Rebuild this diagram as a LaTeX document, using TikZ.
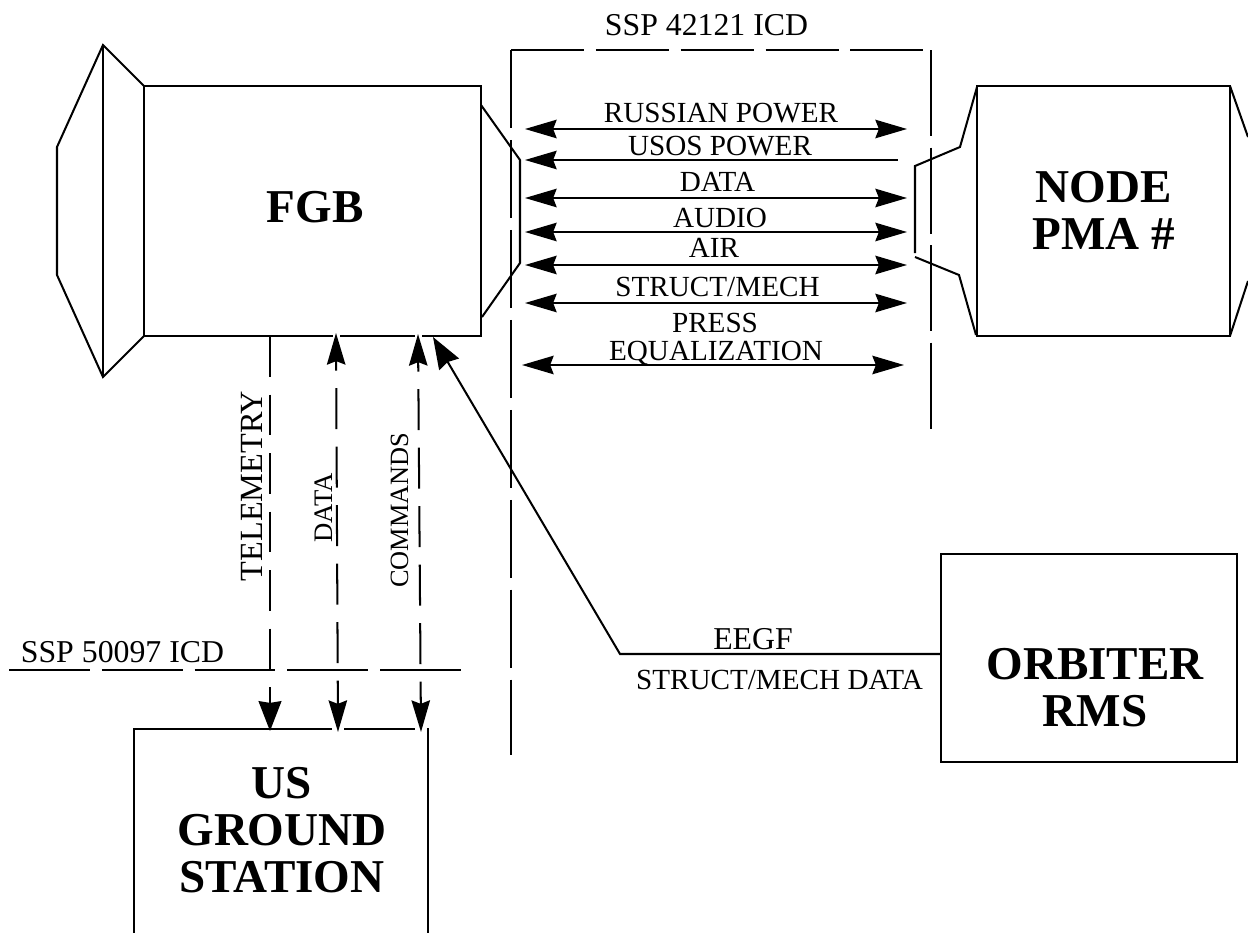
\documentclass[tikz,border=0pt]{standalone}
\usepackage{fontspec}
\setmainfont{Liberation Serif}
\usetikzlibrary{arrows.meta}
\tikzset{
  outline/.style={line width=1.15pt,line join=miter},
  boxnode/.style={draw,line width=1.15pt,inner sep=0pt},
  boxtext/.style={inner sep=0pt,font=\fontsize{26.8}{26.8}\selectfont\bfseries,align=center},
  lbl/.style={inner sep=0pt,anchor=base,font=\fontsize{16.6}{16}\selectfont,align=center},
  biglbl/.style={lbl,font=\fontsize{18.1}{16}\selectfont},
  link/.style={line width=1.15pt,>={Stealth[length=18pt,width=10.5pt,inset=2pt]}},
  icdtop/.style={line width=1.15pt,dash pattern=on 41.5pt off 6.8pt},
  icdleft/.style={line width=1.15pt,dash pattern=on 44.4pt off 6.8pt},
  icdright/.style={line width=1.15pt,dash pattern=on 49pt off 6.5pt},
  icdlow/.style={line width=1.15pt,dash pattern=on 46pt off 6.8pt},
  downlink/.style={link,dash pattern=on 23.3pt off 10pt,dash phase=17.6pt}
}
\begin{document}
\begin{tikzpicture}[x=.02cm,y=-.02cm]
    \useasboundingbox (0,0) rectangle (1248,933);
    \clip (0,0) rectangle (1248,933);
    % boxes
    \node[boxnode,minimum width=6.74cm,minimum height=5cm] (fgb) at (312.5,211) {};
    \node[boxnode,minimum width=5.06cm,minimum height=5cm] (pma) at (1103.5,211) {};
    \node[boxnode,minimum width=5.92cm,minimum height=4.16cm] (orbiter) at (1089,658) {};
    \node[boxnode,minimum width=5.88cm,minimum height=5cm] (ground) at (281,854) {};
    \node[boxtext] (fgbtext) at (315,207.5) {FGB};
    \node[boxtext] (pmatext) at (1104,210) {NODE\\PMA \#};
    \node[boxtext] (orbitertext) at (1095,688) {ORBITER\\RMS};
    \node[boxtext] (groundtext) at (282,830) {US\\GROUND\\STATION};
    % end pieces
    \draw[outline] (144,86) -- (103,45) -- (57,147) -- (57,275) -- (103,377) -- (144,336);
    \draw[outline] (103,45) -- (103,377);
    \draw[outline] (481,105) -- (520,160) -- (520,263) -- (482,317);
    \draw[outline] (977,87) -- (960,147) -- (915,166) -- (915,253);
    \draw[outline] (915,257) -- (959,275) -- (976,335);
    \draw[outline] (1230,86) -- (1248,137);
    \draw[outline] (1230,336) -- (1248,281);
    % ICD lines
    \coordinate (icdA) at (511,50);
    \coordinate (icdB) at (931,50);
    \coordinate (icdC) at (511,755);
    \coordinate (icdD) at (931,430);
    \coordinate (icdE) at (9,670);
    \coordinate (icdF) at (462,670);
    \draw[icdtop] (icdA) -- (icdB);
    \draw[icdleft] (icdA) -- (icdC);
    \draw[icdright] (icdB) -- (icdD);
    \draw[icdlow] (icdE) -- (icdF);
    % flows across the ICD
    \foreach \nm/\yy in {russian/129,data/198,audio/232,air/265,struct/303}{
        \coordinate (\nm L) at (525,\yy);
        \coordinate (\nm R) at (907,\yy);
        \draw[link,<->] (\nm L) -- (\nm R);
    }
    \coordinate (usosL) at (525,160);
    \coordinate (usosR) at (898,160);
    \draw[link,<-] (usosL) -- (usosR);
    \coordinate (pressL) at (522,365);
    \coordinate (pressR) at (904,365);
    \draw[link,<->] (pressL) -- (pressR);
    % ground links
    \coordinate (telemT) at (270,336);
    \coordinate (telemB) at (270,731);
    \coordinate (dataT) at (336,333);
    \coordinate (dataB) at (338,732);
    \coordinate (cmdT) at (418,334);
    \coordinate (cmdB) at (421,732);
    \draw[white,line width=2pt] (333,336) -- (340,336) (415,336) -- (422,336);
    \draw[white,line width=2pt] (332,729) -- (344,729) (415,729) -- (427,729);
    \draw[link,dash pattern=on 23.3pt off 10pt,-{Stealth[length=17pt,width=13pt,inset=1pt]}] (telemT) -- (telemB);
    \draw[downlink,<->] (dataT) -- (dataB);
    \draw[downlink,<->] (cmdT) -- (cmdB);
    % orbiter link
    \coordinate (bend) at (620,654);
    \coordinate (eegfT) at (433,337);
    \draw[line width=1.15pt,-{Stealth[length=18pt,width=13pt,inset=1.5pt]}] (bend -| orbiter.west) -- (bend) -- (eegfT);
    % labels
    \node[biglbl] (icd1) at (706.5,35) {SSP 42121 ICD};
    \node[lbl] (russian) at (721,122) {RUSSIAN POWER};
    \node[lbl] (usos) at (720,155) {USOS POWER};
    \node[lbl] (data) at (717.5,191) {DATA};
    \node[lbl] (audio) at (720,227) {AUDIO};
    \node[lbl] (air) at (714,257) {AIR};
    \node[lbl] (struct) at (717.5,296) {STRUCT/MECH};
    \node[lbl] (press) at (715,332) {PRESS};
    \node[lbl] (equal) at (716,360) {EQUALIZATION};
    \node[biglbl] (eegf) at (753,649) {EEGF};
    \node[lbl] (mech) at (779.5,689) {STRUCT/MECH DATA};
    \node[biglbl] (icd2) at (122.5,662) {SSP 50097 ICD};
    \node[biglbl,rotate=90,font=\fontsize{18.4}{16}\selectfont] (telem) at (262,486) {TELEMETRY};
    \node[lbl,rotate=90,font=\fontsize{15.2}{16}\selectfont] (gdata) at (332,508) {DATA};
    \node[lbl,rotate=90,font=\fontsize{15}{16}\selectfont] (cmd) at (408,510) {COMMANDS};
\end{tikzpicture}
\end{document}
